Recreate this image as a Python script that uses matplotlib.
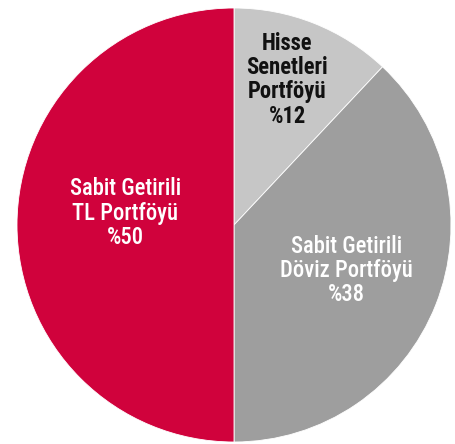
import matplotlib
matplotlib.use("Agg")
import matplotlib.pyplot as plt

labels = ["Hisse\nSenetleri\nPortföyü\n%12",
          "Sabit Getirili\nDöviz Portföyü\n%38",
          "Sabit Getirili\nTL Portföyü\n%50"]
values = [12, 38, 50]
colors = ["#c6c6c6", "#9e9e9e", "#d0023c"]
text_colors = ["#111111", "white", "white"]
label_pos = [(0.245, 0.67), (0.52, -0.21), (-0.50, 0.055)]

fig = plt.figure(figsize=(4.56, 4.44), dpi=100)
ax = fig.add_axes([17/456, 2/444, 434/456, 434/444])
ax.pie(values, colors=colors, startangle=90, counterclock=False,
       wedgeprops=dict(linewidth=0.6, edgecolor="white"))
ax.set_aspect("equal")
ax.set_xlim(-1, 1)
ax.set_ylim(-1, 1)
ax.axis("off")

for lab, (x, y), tc in zip(labels, label_pos, text_colors):
    ax.text(x, y, lab, ha="center", va="center", color=tc, fontsize=16.3,
            fontweight="bold" if tc != "white" else "medium",
            family=["Roboto Condensed", "DejaVu Sans"], linespacing=1.07)

fig.savefig("out.png", dpi=100)
